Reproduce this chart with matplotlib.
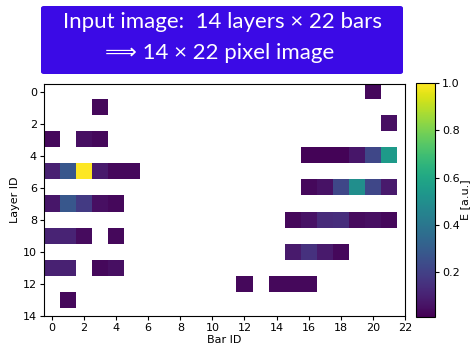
import numpy as np
import matplotlib
matplotlib.use("Agg")
import matplotlib.pyplot as plt
from matplotlib.patches import FancyBboxPatch

n_layers = 14
n_bars = 22

# hits: layer, bar, energy
layer_ids = [0, 1, 2,
             3, 3, 3,
             4, 4, 4, 4, 4, 4,
             5, 5, 5, 5, 5, 5,
             6, 6, 6, 6, 6, 6,
             7, 7, 7, 7, 7,
             8, 8, 8, 8, 8, 8, 8,
             9, 9, 9, 9,
             10, 10, 10, 10,
             11, 11, 11, 11,
             12, 12, 12, 12,
             13]
bar_ids = [20, 3, 21,
           0, 2, 3,
           16, 17, 18, 19, 20, 21,
           0, 1, 2, 3, 4, 5,
           16, 17, 18, 19, 20, 21,
           0, 1, 2, 3, 4,
           15, 16, 17, 18, 19, 20, 21,
           0, 1, 2, 4,
           15, 16, 17, 18,
           0, 1, 3, 4,
           12, 14, 15, 16,
           1]
energies = [0.03, 0.03, 0.05,
            0.03, 0.05, 0.03,
            0.02, 0.02, 0.02, 0.07, 0.22, 0.55,
            0.10, 0.28, 1.00, 0.08, 0.03, 0.03,
            0.03, 0.06, 0.22, 0.50, 0.22, 0.08,
            0.07, 0.28, 0.18, 0.05, 0.03,
            0.03, 0.06, 0.13, 0.14, 0.04, 0.05, 0.03,
            0.11, 0.11, 0.04, 0.03,
            0.08, 0.15, 0.08, 0.03,
            0.10, 0.10, 0.03, 0.05,
            0.03, 0.03, 0.03, 0.03,
            0.03]

img = np.full((n_layers, n_bars), np.nan)
img[layer_ids, bar_ids] = energies

fig = plt.figure(figsize=(4.73, 3.5), dpi=100)
ax = fig.add_axes([0.093, 0.095, 0.763, 0.667])
cax = fig.add_axes([0.8795, 0.095, 0.040, 0.667])

im = ax.imshow(img, cmap="viridis", vmin=0.01, vmax=1.0, aspect="equal")
ax.set_xlim(-0.5, 22)
ax.set_ylim(14, -0.5)
ax.set_xticks(np.arange(0, 23, 2))
ax.set_yticks(np.arange(0, 15, 2))
ax.tick_params(labelsize=8, length=3, pad=2)
ax.set_xlabel("Bar ID", fontsize=8, labelpad=1)
ax.set_ylabel("Layer ID", fontsize=8, labelpad=2)

cb = fig.colorbar(im, cax=cax)
cb.set_ticks([0.2, 0.4, 0.6, 0.8, 1.0])
cb.ax.tick_params(labelsize=8, length=3, pad=2)
cb.set_label("E [a.u.]", fontsize=8, labelpad=0)

# title box
box = FancyBboxPatch((41 / 473, 1 - 74 / 350), 362 / 473, 68 / 350,
                     boxstyle="round,pad=0,rounding_size=0.006",
                     transform=fig.transFigure, facecolor="#3b0ae6",
                     edgecolor="none", zorder=5)
fig.patches.append(box)
fig.text(222 / 473, 1 - 22 / 350, "Input image:  14 layers \u00d7 22 bars",
         color="white", fontsize=16, ha="center", va="center",
         family=["Lato", "DejaVu Sans"], zorder=6)
fig.text(220 / 473, 1 - 53 / 350, "\u27f9 14 \u00d7 22 pixel image",
         color="white", fontsize=16, ha="center", va="center",
         family=["Lato", "DejaVu Sans"], zorder=6)

fig.savefig("out.png", dpi=100)
